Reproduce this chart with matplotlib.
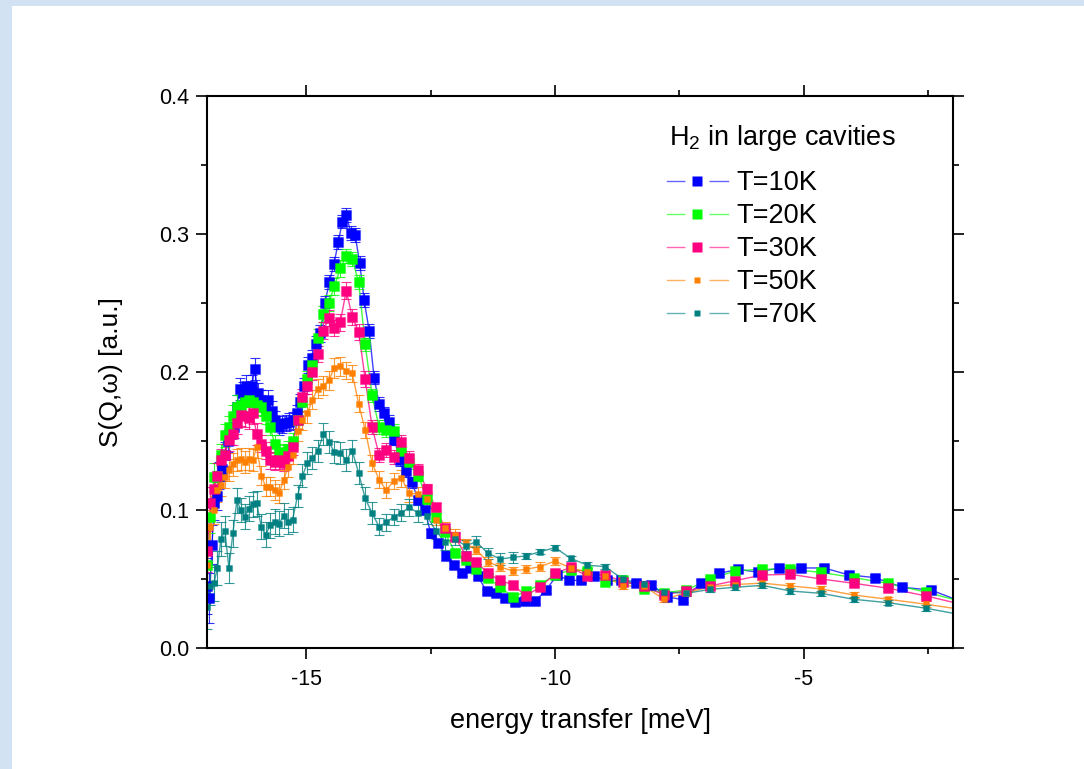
import matplotlib.pyplot as plt
from matplotlib.colors import to_rgba
from matplotlib.lines import Line2D
from matplotlib.legend_handler import HandlerTuple
from matplotlib.patches import Rectangle

plt.rcParams['font.family'] = ['Liberation Sans', 'DejaVu Sans']
plt.rcParams['mathtext.fontset'] = 'custom'
plt.rcParams['mathtext.rm'] = 'Liberation Sans'
plt.rcParams['mathtext.it'] = 'Liberation Sans:italic'
plt.rcParams['axes.unicode_minus'] = False

# energy bins of the 10K run (finer binning) [meV]
e_fine = [-17.00, -16.95, -16.90, -16.85, -16.80, -16.75, -16.70, -16.64, -16.58, -16.52,
          -16.46, -16.40, -16.34, -16.28, -16.22, -16.16, -16.10, -16.04, -15.98, -15.91,
          -15.84, -15.77, -15.70, -15.63, -15.56, -15.49, -15.42, -15.35, -15.28, -15.20,
          -15.12, -15.04, -14.96, -14.88, -14.80, -14.72, -14.63, -14.54, -14.45, -14.36,
          -14.28, -14.20, -14.11, -14.02, -13.93, -13.84, -13.74, -13.64, -13.54, -13.44,
          -13.34, -13.23, -13.12, -13.00, -12.88, -12.75, -12.62, -12.50, -12.35, -12.20,
          -12.04, -11.88, -11.72, -11.55, -11.38, -11.19, -11.00, -10.81, -10.61, -10.40,
          -10.18, -9.96, -9.72, -9.48, -9.22, -8.95, -8.68, -8.38, -8.07, -7.75,
          -7.42, -7.07, -6.71, -6.33, -5.93, -5.49, -5.05, -4.59, -4.10, -3.57,
          -3.02, -2.44, -1.86]

# energy bins of the 20K..70K runs [meV]
e_coarse = [-17.00, -16.93, -16.86, -16.79, -16.72, -16.64, -16.56, -16.48, -16.40, -16.32,
            -16.24, -16.16, -16.08, -16.00, -15.91, -15.82, -15.73, -15.64, -15.55, -15.46,
            -15.37, -15.28, -15.18, -15.08, -14.98, -14.88, -14.77, -14.66, -14.55, -14.44,
            -14.32, -14.20, -14.08, -13.95, -13.82, -13.68, -13.54, -13.40, -13.24, -13.09,
            -12.93, -12.75, -12.58, -12.40, -12.22, -12.01, -11.80, -11.59, -11.35, -11.10,
            -10.85, -10.59, -10.30, -10.00, -9.69, -9.35, -9.00, -8.63, -8.22, -7.81,
            -7.37, -6.88, -6.38, -5.84, -5.27, -4.65, -4.00, -3.30, -2.54, -1.75]

s_10K = [0.045, 0.036, 0.075, 0.105, 0.110, 0.125, 0.130, 0.140, 0.150, 0.155,
         0.160, 0.175, 0.188, 0.185, 0.190, 0.185, 0.190, 0.202, 0.185, 0.180,
         0.175, 0.180, 0.172, 0.165, 0.160, 0.162, 0.163, 0.164, 0.165, 0.170,
         0.178, 0.190, 0.205, 0.210, 0.220, 0.228, 0.250, 0.265, 0.278, 0.294,
         0.309, 0.314, 0.301, 0.299, 0.279, 0.252, 0.230, 0.196, 0.177, 0.170,
         0.164, 0.151, 0.136, 0.128, 0.120, 0.107, 0.100, 0.083, 0.076, 0.067,
         0.060, 0.054, 0.058, 0.052, 0.041, 0.040, 0.036, 0.033, 0.034, 0.034,
         0.042, 0.053, 0.049, 0.049, 0.052, 0.049, 0.049, 0.047, 0.046, 0.037,
         0.035, 0.047, 0.054, 0.057, 0.055, 0.058, 0.058, 0.058, 0.053, 0.051,
         0.044, 0.042, 0.034]
err_10K = [0.020, 0.018, 0.014, 0.012, 0.010, 0.010, 0.009, 0.009, 0.008, 0.008,
           0.008, 0.008, 0.008, 0.008, 0.008, 0.008, 0.008, 0.008, 0.007, 0.007,
           0.007, 0.007, 0.007, 0.007, 0.006, 0.006, 0.006, 0.006, 0.006, 0.006,
           0.006, 0.006, 0.006, 0.006, 0.006, 0.006, 0.005, 0.005, 0.005, 0.005,
           0.005, 0.005, 0.005, 0.005, 0.005, 0.005, 0.005, 0.005, 0.005, 0.005,
           0.005, 0.004, 0.004, 0.004, 0.004, 0.003, 0.003, 0.003, 0.003, 0.003,
           0.002, 0.002, 0.002, 0.002, 0.002, 0.002, 0.002, 0.002, 0.002, 0.002,
           0.002, 0.002, 0.002, 0.002, 0.002, 0.002, 0.002, 0.002, 0.002, 0.002,
           0.002, 0.002, 0.002, 0.002, 0.002, 0.002, 0.002, 0.002, 0.002, 0.002,
           0.002, 0.002, 0.002]

s_20K = [0.060, 0.095, 0.124, 0.125, 0.140, 0.154, 0.160, 0.168, 0.175, 0.176,
         0.178, 0.180, 0.178, 0.176, 0.175, 0.168, 0.160, 0.148, 0.141, 0.142,
         0.144, 0.150, 0.165, 0.178, 0.195, 0.205, 0.225, 0.242, 0.250, 0.262,
         0.275, 0.284, 0.282, 0.265, 0.220, 0.183, 0.160, 0.158, 0.157, 0.143,
         0.135, 0.125, 0.108, 0.095, 0.084, 0.069, 0.064, 0.057, 0.051, 0.044,
         0.037, 0.041, 0.046, 0.053, 0.0565, 0.056, 0.048, 0.049, 0.043, 0.040,
         0.042, 0.050, 0.0558, 0.0572, 0.057, 0.0548, 0.051, 0.0469, 0.0404, 0.033]
err_20K = [0.015, 0.012, 0.010, 0.009, 0.008, 0.008, 0.008, 0.008, 0.008, 0.008,
           0.008, 0.008, 0.008, 0.008, 0.006, 0.006, 0.006, 0.006, 0.006, 0.006,
           0.006, 0.006, 0.006, 0.006, 0.006, 0.006, 0.006, 0.006, 0.006, 0.006,
           0.006, 0.005, 0.005, 0.005, 0.005, 0.005, 0.005, 0.005, 0.005, 0.005,
           0.005, 0.004, 0.004, 0.003, 0.003, 0.003, 0.002, 0.002, 0.002, 0.002,
           0.002, 0.002, 0.002, 0.002, 0.002, 0.002, 0.002, 0.002, 0.002, 0.002,
           0.002, 0.002, 0.002, 0.002, 0.002, 0.002, 0.002, 0.002, 0.002, 0.002]

s_30K = [0.070, 0.105, 0.115, 0.125, 0.136, 0.140, 0.151, 0.155, 0.163, 0.169,
         0.168, 0.167, 0.170, 0.155, 0.148, 0.143, 0.136, 0.135, 0.136, 0.134,
         0.139, 0.146, 0.165, 0.182, 0.190, 0.200, 0.213, 0.230, 0.239, 0.232,
         0.236, 0.259, 0.240, 0.229, 0.195, 0.160, 0.140, 0.1435, 0.1386, 0.1495,
         0.1375, 0.129, 0.115, 0.102, 0.087, 0.0807, 0.067, 0.0626, 0.054, 0.049,
         0.0457, 0.038, 0.044, 0.054, 0.0585, 0.052, 0.053, 0.048, 0.045, 0.0384,
         0.0415, 0.045, 0.0488, 0.0529, 0.0534, 0.050, 0.0469, 0.0433, 0.0377, 0.031]
err_30K = [0.015, 0.012, 0.010, 0.009, 0.008, 0.008, 0.008, 0.008, 0.008, 0.008,
           0.008, 0.008, 0.008, 0.008, 0.006, 0.006, 0.006, 0.006, 0.006, 0.006,
           0.006, 0.006, 0.006, 0.006, 0.006, 0.006, 0.006, 0.006, 0.006, 0.006,
           0.006, 0.006, 0.006, 0.006, 0.006, 0.005, 0.005, 0.005, 0.005, 0.005,
           0.005, 0.004, 0.004, 0.003, 0.003, 0.003, 0.002, 0.002, 0.002, 0.002,
           0.002, 0.002, 0.002, 0.002, 0.002, 0.002, 0.002, 0.002, 0.002, 0.002,
           0.002, 0.002, 0.002, 0.002, 0.002, 0.002, 0.002, 0.002, 0.002, 0.002]

s_50K = [0.060, 0.088, 0.100, 0.1145, 0.118, 0.124, 0.129, 0.133, 0.136, 0.137,
         0.135, 0.137, 0.136, 0.146, 0.125, 0.117, 0.117, 0.1145, 0.112, 0.122,
         0.131, 0.140, 0.157, 0.165, 0.170, 0.180, 0.188, 0.190, 0.194, 0.203,
         0.204, 0.201, 0.199, 0.177, 0.158, 0.134, 0.122, 0.1145, 0.121, 0.123,
         0.112, 0.1116, 0.108, 0.093, 0.087, 0.082, 0.076, 0.071, 0.0626, 0.0585,
         0.056, 0.057, 0.059, 0.063, 0.058, 0.055, 0.052, 0.045, 0.045, 0.0353,
         0.040, 0.0444, 0.046, 0.047, 0.045, 0.0428, 0.0384, 0.0353, 0.0317, 0.0275]
err_50K = [0.014, 0.012, 0.010, 0.009, 0.008, 0.008, 0.008, 0.008, 0.008, 0.008,
           0.008, 0.008, 0.008, 0.008, 0.007, 0.007, 0.007, 0.007, 0.007, 0.007,
           0.007, 0.007, 0.007, 0.007, 0.007, 0.007, 0.007, 0.007, 0.007, 0.007,
           0.007, 0.006, 0.006, 0.006, 0.006, 0.006, 0.006, 0.006, 0.006, 0.006,
           0.006, 0.005, 0.005, 0.004, 0.004, 0.004, 0.003, 0.003, 0.003, 0.003,
           0.003, 0.003, 0.003, 0.003, 0.002, 0.002, 0.002, 0.002, 0.002, 0.002,
           0.002, 0.002, 0.002, 0.002, 0.002, 0.002, 0.002, 0.002, 0.002, 0.002]

s_70K = [0.030, 0.045, 0.047, 0.058, 0.079, 0.085, 0.058, 0.083, 0.107, 0.100,
         0.095, 0.101, 0.104, 0.105, 0.088, 0.082, 0.089, 0.0915, 0.090, 0.096,
         0.0915, 0.093, 0.110, 0.125, 0.134, 0.1375, 0.143, 0.155, 0.1495, 0.142,
         0.1415, 0.136, 0.143, 0.1266, 0.1085, 0.0976, 0.088, 0.091, 0.095, 0.098,
         0.102, 0.0976, 0.0957, 0.085, 0.077, 0.079, 0.074, 0.077, 0.0686, 0.0645,
         0.0657, 0.0667, 0.0698, 0.0727, 0.065, 0.060, 0.059, 0.0497, 0.0464, 0.0408,
         0.0396, 0.0425, 0.044, 0.0454, 0.0413, 0.0396, 0.0353, 0.0328, 0.0288, 0.0235]
err_70K = [0.016, 0.014, 0.013, 0.012, 0.012, 0.011, 0.011, 0.010, 0.009, 0.009,
           0.009, 0.009, 0.009, 0.009, 0.009, 0.009, 0.009, 0.009, 0.009, 0.009,
           0.009, 0.009, 0.008, 0.008, 0.008, 0.008, 0.008, 0.008, 0.008, 0.008,
           0.008, 0.008, 0.008, 0.008, 0.008, 0.008, 0.006, 0.006, 0.006, 0.006,
           0.006, 0.006, 0.006, 0.006, 0.006, 0.004, 0.004, 0.004, 0.004, 0.004,
           0.004, 0.002, 0.002, 0.002, 0.002, 0.002, 0.002, 0.002, 0.002, 0.002,
           0.002, 0.002, 0.002, 0.002, 0.002, 0.002, 0.002, 0.002, 0.002, 0.002]

labels = ['T=10K', 'T=20K', 'T=30K', 'T=50K', 'T=70K']
colors = ['#0000FF', '#00FF00', '#FF0080', '#FF8000', '#008080']
sizes = [7.0, 7.0, 7.0, 4.8, 4.8]
runs = [(e_fine, s_10K, err_10K), (e_coarse, s_20K, err_20K), (e_coarse, s_30K, err_30K),
        (e_coarse, s_50K, err_50K), (e_coarse, s_70K, err_70K)]

fig = plt.figure(figsize=(10.84, 7.69), dpi=100)
# pale blue page edge on the left and top
edge = '#d3e2f2'
fig.patches.append(Rectangle((0, 0), 12 / 1084, 1, transform=fig.transFigure,
                             facecolor=edge, edgecolor='none', zorder=-5))
fig.patches.append(Rectangle((0, 1 - 6 / 769), 1, 6 / 769, transform=fig.transFigure,
                             facecolor=edge, edgecolor='none', zorder=-5))

ax = fig.add_axes([207 / 1084, 1 - 648 / 769, 746 / 1084, 552 / 769])

handles = []
for (x, y, err), c, ms, lab in zip(runs, colors, sizes, labels):
    rim = to_rgba(c, 0.35)
    ax.plot(x, y, '-', color=c, lw=1.0, alpha=0.75)
    ax.errorbar(x, y, yerr=err, fmt='s', color=c, ms=ms, mec=rim, mew=0.8,
                elinewidth=0.8, capsize=3.5, capthick=0.8, ecolor=to_rgba(c, 0.8))
    # legend entry: line broken by a white square around the marker
    h_line = Line2D([], [], color=c, lw=1.0, alpha=0.6)
    h_gap = Line2D([], [], ls='', marker='s', ms=17, mfc='white', mec='none')
    h_mark = Line2D([], [], ls='', marker='s', ms=ms, mfc=c, mec='none')
    handles.append((h_line, h_gap, h_mark))

ax.set_xlim(-17, -2)
ax.set_ylim(0, 0.4)
ax.set_xticks([-15, -10, -5])
ax.set_xticks([-12.5, -7.5, -2.5], minor=True)
ax.set_yticks([0.0, 0.1, 0.2, 0.3, 0.4])
ax.set_yticklabels(['0.0', '0.1', '0.2', '0.3', '0.4'])
ax.set_yticks([0.05, 0.15, 0.25, 0.35], minor=True)
ax.tick_params(which='both', direction='out', top=True, right=True,
               labelsize=15.5, width=1.2)
ax.tick_params(which='major', length=8)
ax.tick_params(which='minor', length=4)
ax.tick_params(axis='x', which='major', pad=7)
ax.tick_params(axis='y', which='major', pad=5)
for sp in ax.spines.values():
    sp.set_linewidth(1.5)

ax.set_xlabel('energy transfer [meV]', fontsize=19.5, labelpad=13)
ax.set_ylabel('S(Q,ω) [a.u.]', fontsize=19, labelpad=26)

fig.text(669 / 1084, 1 - 138 / 769, 'H$_2$ in large cavities', fontsize=19.5,
         ha='left', va='center')
leg = fig.legend(handles, labels, handler_map={tuple: HandlerTuple(ndivide=1)},
                 loc='upper left', bbox_to_anchor=(667 / 1084, 1 - 170 / 769),
                 frameon=False, fontsize=19.5, borderpad=0, borderaxespad=0,
                 handlelength=2.25, handletextpad=0.3, labelspacing=0.26)

fig.savefig('out.png', dpi=100)
